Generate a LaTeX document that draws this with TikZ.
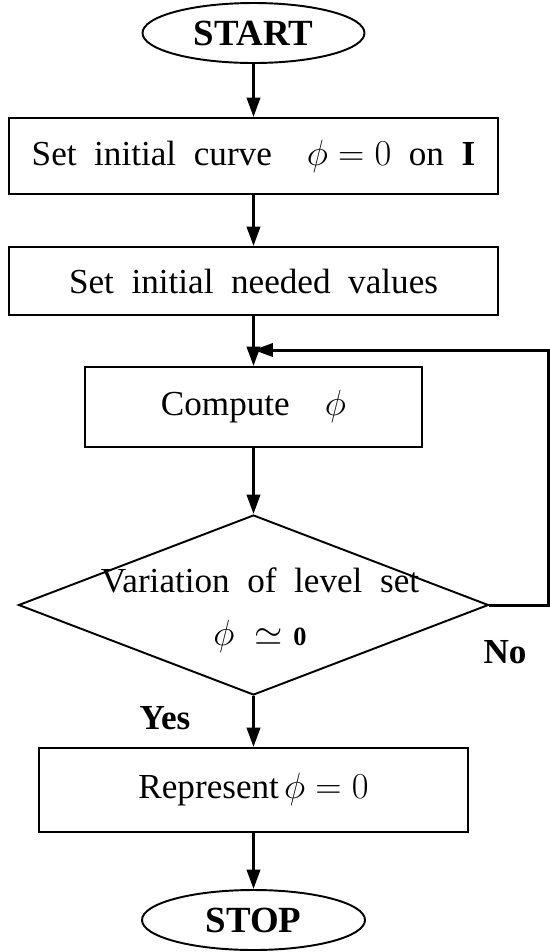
\documentclass[tikz,border=0pt]{standalone}
\usepackage{fontspec}
\setmainfont[WordSpace=2]{Liberation Serif}
\usetikzlibrary{shapes.geometric,arrows.meta}
\begin{document}
\begin{tikzpicture}[>={Triangle[length=11pt,width=7.5pt]},
  font=\fontsize{20}{26}\selectfont,
  proc/.style={draw,line width=1.1pt,inner sep=0pt},
  term/.style={draw,ellipse,line width=1.1pt,inner sep=0pt,minimum height=1.2cm,font=\fontsize{21}{26}\selectfont\bfseries},
  flow/.style={->,line width=1.7pt}]
\useasboundingbox (0,0) rectangle (11,-19.04);

% Terminals
\node (start) at (5.07,-0.66) [term,minimum width=4.44cm] {START};
\node (stop) at (5.07,-18.4) [term,minimum width=4.46cm] {STOP};

% Process boxes
\node (curve) at (5.07,-3.12) [proc,minimum width=9.78cm,minimum height=1.52cm] {Set initial curve \ $\phi = 0$ on $\mathbf{I}$};
\node (needed) at (5.07,-5.62) [proc,minimum width=9.78cm,minimum height=1.36cm] {Set initial needed values};
\node (compute) at (5.07,-8.14) [proc,minimum width=6.74cm,minimum height=1.6cm] {Compute \ $\phi$};
\node (show) at (5.07,-15.8) [proc,minimum width=8.58cm,minimum height=1.68cm] {Represent\hspace{0.15em}$\phi = 0$};

% Decision
\node (test) at (5.07,-12.1) [draw,diamond,line width=1.1pt,inner sep=0pt,minimum width=9.4cm,minimum height=3.6cm] {};
\node (testtxt) at (5.2,-12.2) [align=center] {Variation of level set\\[4pt]$\phi\;\simeq\;${\fontsize{15}{18}\selectfont\bfseries 0}};

% Labels
\node (yes) at (3.3,-14.36) {\textbf{Yes}};
\node (no) at (10.1,-13.04) {\textbf{No}};

% Main flow
\draw[flow] (start) -- (curve);
\draw[flow] (curve) -- (needed);
\draw[flow] (needed) -- (compute);
\draw[flow] (compute) -- (test);
\draw[flow] (test) -- (show);
\draw[flow] (show) -- (stop);

% Loop back
\coordinate (join) at (5.07,-7.0);
\draw[flow] (test.east) -- ++(1.19,0) |- (join);

\end{tikzpicture}
\end{document}
